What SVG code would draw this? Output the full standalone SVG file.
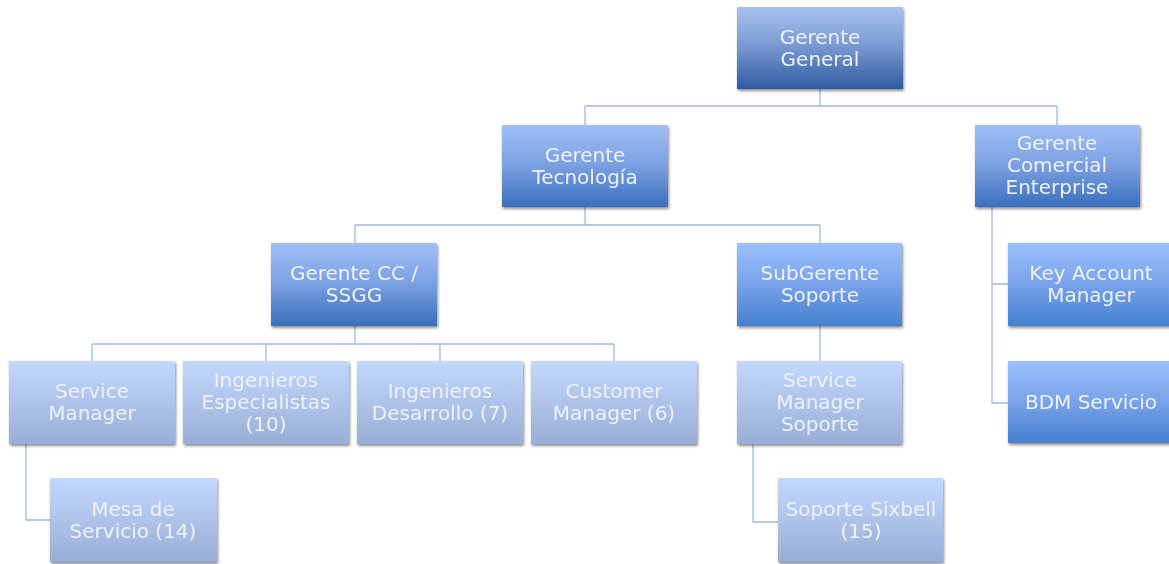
<svg xmlns="http://www.w3.org/2000/svg" width="1169" height="564" viewBox="0 0 1169 564">
<defs>
<linearGradient id="gTop" x1="0" y1="0" x2="0" y2="1">
<stop offset="0" stop-color="#a9c2ef"/><stop offset="0.45" stop-color="#7c9bd4"/><stop offset="1" stop-color="#2f5c9f"/>
</linearGradient>
<linearGradient id="gMid" x1="0" y1="0" x2="0" y2="1">
<stop offset="0" stop-color="#a0c0f6"/><stop offset="0.5" stop-color="#7a9fe0"/><stop offset="1" stop-color="#3a6fbd"/>
</linearGradient>
<linearGradient id="gRight" x1="0" y1="0" x2="0" y2="1">
<stop offset="0" stop-color="#9cc0fb"/><stop offset="0.5" stop-color="#78a2ea"/><stop offset="1" stop-color="#4580cf"/>
</linearGradient>
<linearGradient id="gLight" x1="0" y1="0" x2="0" y2="1">
<stop offset="0" stop-color="#c3d8fd"/><stop offset="1" stop-color="#98aed6"/>
</linearGradient>
<filter id="sh" x="-10%" y="-10%" width="125%" height="130%">
<feGaussianBlur in="SourceAlpha" stdDeviation="1.6"/>
<feOffset dx="1" dy="2" result="b"/>
<feComponentTransfer><feFuncA type="linear" slope="0.45"/></feComponentTransfer>
<feMerge><feMergeNode/><feMergeNode in="SourceGraphic"/></feMerge>
</filter>
</defs>
<style>
.c{fill:none;stroke:#a3b8dd;stroke-width:1.3}
.n{filter:url(#sh)}
text{font-family:"DejaVu Sans","Liberation Sans",sans-serif;font-size:20px;fill:#edf2fb;text-anchor:middle}
</style>
<rect width="1169" height="564" fill="#ffffff"/>
<g id="connectors">
<path class="c" d="M820 89V106M585 106H1057M585 106V125M1057 106V125"/>
<path class="c" d="M585 207V225M355 225H820M355 225V243M820 225V243"/>
<path class="c" d="M355 326V344M92 344H614M92 344V361M266 344V361M440 344V361M614 344V361"/>
<path class="c" d="M820 326V361"/>
<path class="c" d="M26 444V520H50"/>
<path class="c" d="M753 444V522H778"/>
<path class="c" d="M992 207V403H1008M992 284H1008"/>
</g>
<g id="gerente-general" class="n"><rect x="737" y="7" width="166" height="82" fill="url(#gTop)"/><text x="820" y="44">Gerente</text><text x="820" y="66">General</text></g>
<g id="gerente-tecnologia" class="n"><rect x="502" y="125" width="166" height="82" fill="url(#gMid)"/><text x="585" y="162">Gerente</text><text x="585" y="184">Tecnología</text></g>
<g id="gerente-comercial" class="n"><rect x="975" y="125" width="165" height="82" fill="url(#gMid)"/><text x="1057" y="150">Gerente</text><text x="1057" y="172">Comercial</text><text x="1057" y="194">Enterprise</text></g>
<g id="gerente-cc" class="n"><rect x="271" y="243" width="166" height="83" fill="url(#gMid)"/><text x="354" y="280">Gerente CC /</text><text x="354" y="302">SSGG</text></g>
<g id="subgerente-soporte" class="n"><rect x="737" y="243" width="165" height="83" fill="url(#gRight)"/><text x="820" y="280">SubGerente</text><text x="820" y="302">Soporte</text></g>
<g id="key-account" class="n"><rect x="1008" y="243" width="166" height="83" fill="url(#gRight)"/><text x="1091" y="280">Key Account</text><text x="1091" y="302">Manager</text></g>
<g id="bdm-servicio" class="n"><rect x="1008" y="361" width="166" height="82" fill="url(#gRight)"/><text x="1091" y="409">BDM Servicio</text></g>
<g id="service-manager" class="n"><rect x="9" y="361" width="166" height="83" fill="url(#gLight)"/><text x="92" y="398">Service</text><text x="92" y="420">Manager</text></g>
<g id="ing-especialistas" class="n"><rect x="183" y="361" width="166" height="83" fill="url(#gLight)"/><text x="266" y="387">Ingenieros</text><text x="266" y="409">Especialistas</text><text x="266" y="431">(10)</text></g>
<g id="ing-desarrollo" class="n"><rect x="357" y="361" width="166" height="83" fill="url(#gLight)"/><text x="440" y="398">Ingenieros</text><text x="440" y="420">Desarrollo (7)</text></g>
<g id="customer-manager" class="n"><rect x="531" y="361" width="166" height="83" fill="url(#gLight)"/><text x="614" y="398">Customer</text><text x="614" y="420">Manager (6)</text></g>
<g id="service-manager-soporte" class="n"><rect x="737" y="361" width="165" height="83" fill="url(#gLight)"/><text x="820" y="387">Service</text><text x="820" y="409">Manager</text><text x="820" y="431">Soporte</text></g>
<g id="mesa-servicio" class="n"><rect x="50" y="478" width="167" height="84" fill="url(#gLight)"/><text x="133" y="516">Mesa de</text><text x="133" y="538">Servicio (14)</text></g>
<g id="soporte-sixbell" class="n"><rect x="778" y="478" width="165" height="84" fill="url(#gLight)"/><text x="861" y="516">Soporte Sixbell</text><text x="861" y="538">(15)</text></g>
</svg>
